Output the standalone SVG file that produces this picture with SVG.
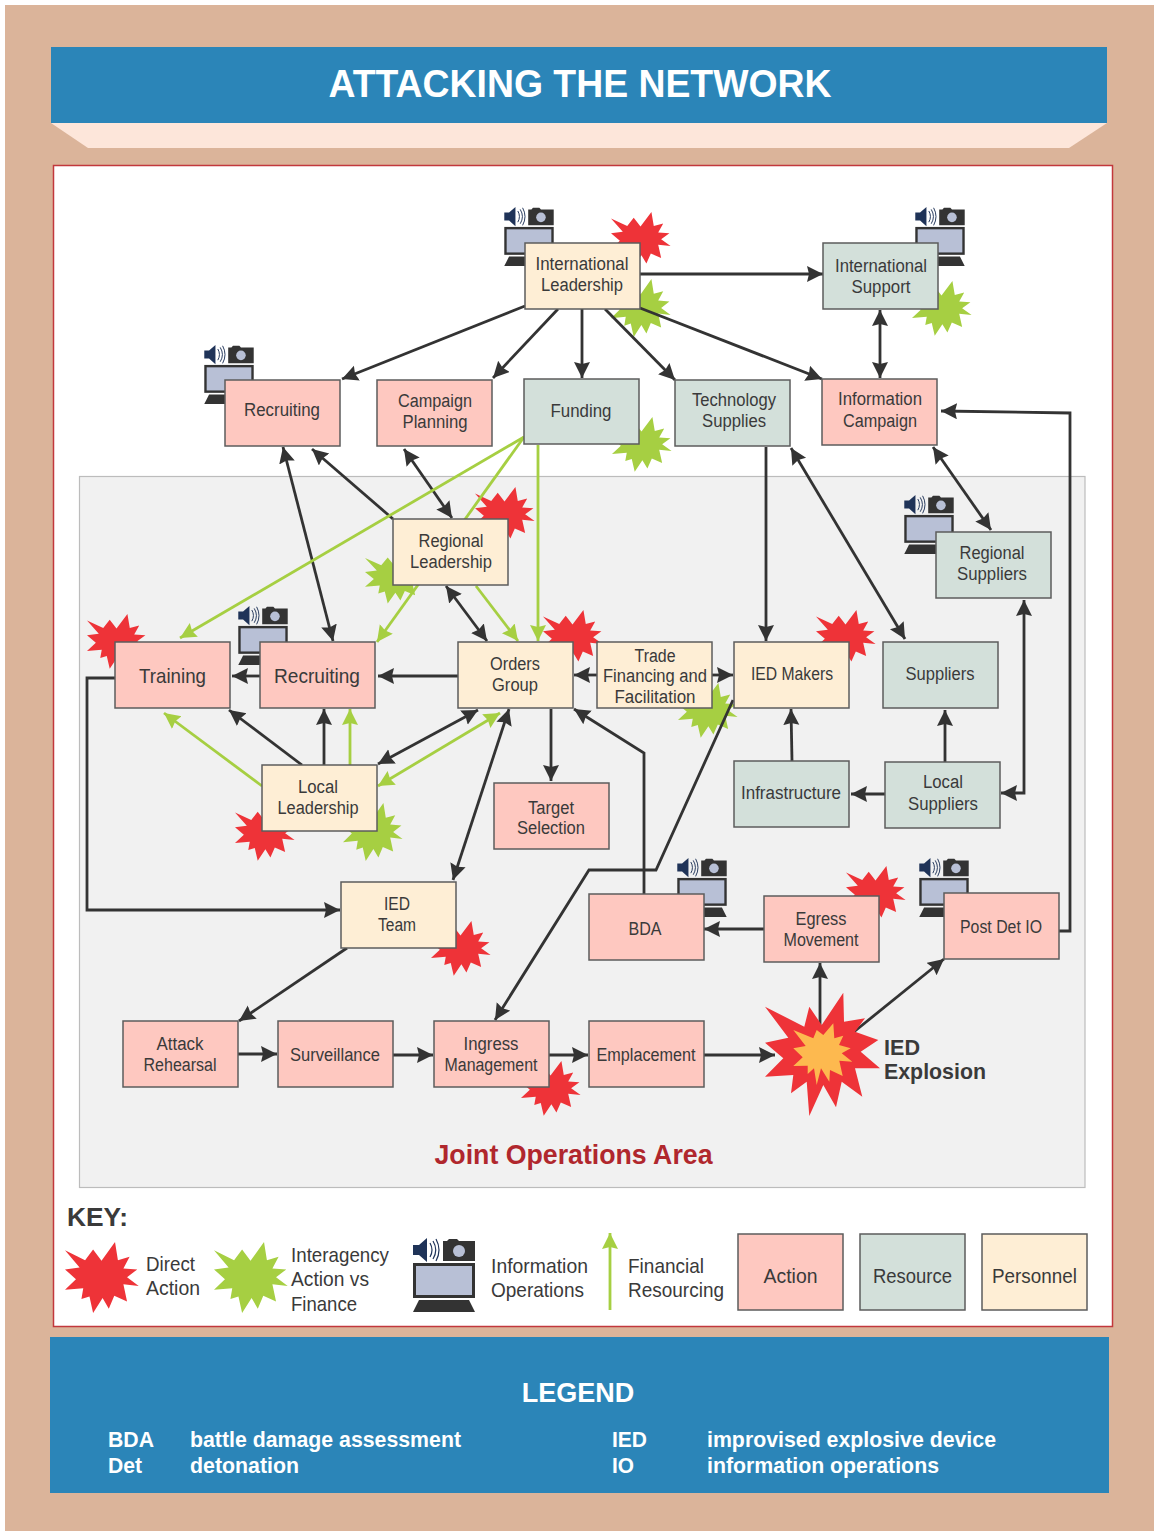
<svg xmlns="http://www.w3.org/2000/svg" xmlns:xlink="http://www.w3.org/1999/xlink" width="1154" height="1531" viewBox="0 0 1154 1531">
<style>
text{font-family:"Liberation Sans",Arial,sans-serif;fill:#3a3a3a;text-anchor:middle;font-size:18px}
.big{font-size:21px}
.lbl{font-size:21px;text-anchor:start}
.bold{font-weight:bold}
.wt{fill:#fff;font-weight:bold;font-size:22px;text-anchor:start}
.n{stroke:#5c5c5c;stroke-width:1.5}
.a{fill:#fec8c0}.r{fill:#d3e0da}.p{fill:#feeed5}
.k{fill:none;stroke:#333;stroke-width:2.800;marker-end:url(#ak)}
.kk{fill:none;stroke:#333;stroke-width:2.800;marker-end:url(#ak);marker-start:url(#ak)}
.g{fill:none;stroke:#a6cf42;stroke-width:2.800;marker-end:url(#ag)}
.gg{fill:none;stroke:#a6cf42;stroke-width:2.800;marker-end:url(#ag);marker-start:url(#ag)}
</style>
<defs>
<marker id="ak" markerUnits="userSpaceOnUse" markerWidth="18" markerHeight="18" refX="16" refY="8" orient="auto-start-reverse"><path d="M0,0L16,8L0,16L2,8Z" fill="#333"/></marker>
<marker id="ag" markerUnits="userSpaceOnUse" markerWidth="18" markerHeight="18" refX="16" refY="8" orient="auto-start-reverse"><path d="M0,0L16,8L0,16L2,8Z" fill="#a6cf42"/></marker>
<polygon id="star" points="137,0 145,55 177,45 160,80 198,83 170,107 202,133 160,128 170,180 135,163 120,202 103,170 77,215 67,165 45,173 50,140 0,145 30,113 0,83 40,77 0,25 55,55 77,23 100,57"/>
<symbol id="info" viewBox="0 0 62 74" overflow="visible">
<path d="M0,7H6L14,0V24L6,17H0Z" fill="#1f3358"/>
<path d="M17,5Q21,12 17,19M20,3Q25.500,12 20,21M23,1Q29,12 23,23" fill="none" stroke="#1f3358" stroke-width="1.200"/>
<path d="M30,3H34L36,1H44L46,3H62V23H30Z" fill="#333"/>
<circle cx="46" cy="13" r="6" fill="#b8c0d6"/>
<rect x="1.500" y="26.500" width="59" height="32" fill="#b8c0d6" stroke="#333" stroke-width="3"/>
<path d="M6,62H56L62,74H0Z" fill="#333"/>
</symbol>
</defs>
<rect x="5" y="5" width="1149" height="1526" fill="#dbb49a"/>
<rect x="51" y="47" width="1056" height="76" fill="#2b85b8"/>
<polygon points="51,123 1107,123 1069,148 88,148" fill="#fde6da"/>
<text x="580" y="97" textLength="503" lengthAdjust="spacingAndGlyphs" class="bold" style="fill:#fff;font-size:38px">ATTACKING THE NETWORK</text>
<rect x="53.500" y="165.500" width="1059" height="1161" fill="#fff" stroke="#c2383c" stroke-width="1.500"/>
<rect x="79.500" y="476.500" width="1005.500" height="711" fill="#f1f1f1" stroke="#bcbcbc" stroke-width="1.200"/>

<g id="decor">
<g fill="#ee3338">
<use href="#star" transform="translate(611,212) scale(.295,.255)"/>
<use href="#star" transform="translate(475,487) scale(.295,.255)"/>
<use href="#star" transform="translate(543,610) scale(.295,.255)"/>
<use href="#star" transform="translate(87,614) scale(.295,.255)"/>
<use href="#star" transform="translate(816,610) scale(.295,.255)"/>
<use href="#star" transform="translate(235,806) scale(.295,.255)"/>
<use href="#star" transform="translate(846,866) scale(.295,.255)"/>
<use href="#star" transform="translate(431,921) scale(.295,.255)"/>
<use href="#star" transform="translate(521,1061) scale(.295,.255)"/>
</g>
<g fill="#a6cf42">
<use href="#star" transform="translate(611,279) scale(.295,.27)"/>
<use href="#star" transform="translate(912,281) scale(.295,.255)"/>
<use href="#star" transform="translate(612,417) scale(.295,.255)"/>
<use href="#star" transform="translate(365,552) scale(.295,.24)"/>
<use href="#star" transform="translate(678,683) scale(.295,.255)"/>
<use href="#star" transform="translate(343,803) scale(.295,.27)"/>
</g>
<use href="#info" x="504" y="207" width="50" height="59"/>
<use href="#info" x="915" y="207" width="50" height="59"/>
<use href="#info" x="204" y="345" width="50" height="59"/>
<use href="#info" x="904" y="495" width="50" height="59"/>
<use href="#info" x="238" y="606" width="50" height="59"/>
<use href="#info" x="677" y="858" width="50" height="59"/>
<use href="#info" x="919" y="858" width="50" height="59"/>
</g>

<g id="connectors">
<path class="k" d="M640,274H823"/>
<path class="k" d="M525,306L342,379"/>
<path class="k" d="M558,309L493,378"/>
<path class="k" d="M582,309V378"/>
<path class="k" d="M605,309L675,380"/>
<path class="k" d="M640,308L822,379"/>
<path class="kk" d="M880,310V378"/>
<path class="k" d="M1059,931H1070V413L941,411"/>
<path class="kk" d="M283,447L333,641"/>
<path class="k" d="M393,519L312,449"/>
<path class="kk" d="M404,449L452,518"/>
<path class="g" d="M524,437L180,638"/>
<path class="g" d="M524,437L377,642"/>
<path class="g" d="M538,445V641"/>
<path class="g" d="M476,586L518,641"/>
<path class="kk" d="M446,586L487,641"/>
<path class="k" d="M766,447V641"/>
<path class="kk" d="M791,448L905,639"/>
<path class="kk" d="M933,447L991,530"/>
<path class="kk" d="M1024,600V793H1001"/>
<path class="k" d="M945,762V710"/>
<path class="k" d="M885,794H851"/>
<path class="k" d="M792,761L791,709"/>
<path class="k" d="M597,675H574"/>
<path class="k" d="M712,675H733"/>
<path class="k" d="M458,676H378"/>
<path class="k" d="M260,676H232"/>
<path class="k" d="M115,678H87V910H340"/>
<path class="k" d="M302,765L229,710"/>
<path class="k" d="M324,765V709"/>
<path class="g" d="M350,765V709"/>
<path class="g" d="M262,786L164,713"/>
<path class="kk" d="M378,764L478,710"/>
<path class="gg" d="M378,786L500,713"/>
<path class="kk" d="M509,709L453,880"/>
<path class="k" d="M551,709V781"/>
<path class="k" d="M644,894V753L574,709"/>
<path class="k" d="M733,700L656,870H589L495,1020"/>
<path class="k" d="M764,929H704"/>
<path class="k" d="M820,1035V963"/>
<path class="k" d="M850,1035L944,959"/>
<path class="k" d="M347,948L239,1021"/>
<path class="k" d="M238,1054H277"/>
<path class="k" d="M393,1055H433"/>
<path class="k" d="M549,1055H588"/>
<path class="k" d="M704,1055H775"/>
</g>

<g id="explosion">
<polygon fill="#ee3338" points="843.300,992.700 844,1021.700 865,1018.300 855,1031.700 878.300,1040 860.700,1051.700 880,1068.300 855,1068.300 862.300,1096.700 841.700,1081.700 836,1107.300 823.300,1085 809.300,1116 806.700,1081.700 791,1093.300 793.300,1075 765,1076.700 783.300,1058.300 765,1042.700 788.300,1037.700 765,1006.700 804.300,1026.700 809.300,1006.700 821.700,1025"/>
<polygon fill="#fdb94f" points="833.300,1023.300 834.300,1038.300 843.300,1035.700 839,1045 850.700,1048.300 841.700,1053.300 852.300,1061.700 839.300,1060.700 842.700,1076 830,1070 829.300,1081.700 821,1068.300 816.700,1085 814,1068.300 807.700,1074 807.700,1065.700 793.300,1066 802.700,1057.300 793.300,1048.300 805.700,1046 793.300,1030 813.300,1038.300 816.700,1030 823.300,1035"/>
<text x="884" y="1055" textLength="36" lengthAdjust="spacingAndGlyphs" class="big bold" style="text-anchor:start;font-size:22px">IED</text>
<text x="884" y="1079" textLength="102" lengthAdjust="spacingAndGlyphs" class="big bold" style="text-anchor:start;font-size:22px">Explosion</text>
</g>

<g id="n-intl-leadership"><rect class="n p" x="525" y="243" width="115" height="66"/><text x="582" y="270" textLength="93" lengthAdjust="spacingAndGlyphs">International</text><text x="582" y="291" textLength="82" lengthAdjust="spacingAndGlyphs">Leadership</text></g>
<g id="n-intl-support"><rect class="n r" x="823" y="243" width="115" height="66"/><text x="881" y="272" textLength="92" lengthAdjust="spacingAndGlyphs">International</text><text x="881" y="293" textLength="59" lengthAdjust="spacingAndGlyphs">Support</text></g>
<g id="n-recruiting-top"><rect class="n a" x="225" y="380" width="115" height="66"/><text x="282" y="416" textLength="76" lengthAdjust="spacingAndGlyphs">Recruiting</text></g>
<g id="n-campaign"><rect class="n a" x="377" y="380" width="115" height="66"/><text x="435" y="407" textLength="74" lengthAdjust="spacingAndGlyphs">Campaign</text><text x="435" y="428" textLength="65" lengthAdjust="spacingAndGlyphs">Planning</text></g>
<g id="n-funding"><rect class="n r" x="524" y="379" width="115" height="65"/><text x="581" y="417" textLength="61" lengthAdjust="spacingAndGlyphs">Funding</text></g>
<g id="n-technology"><rect class="n r" x="675" y="380" width="115" height="66"/><text x="734" y="406" textLength="84" lengthAdjust="spacingAndGlyphs">Technology</text><text x="734" y="427" textLength="64" lengthAdjust="spacingAndGlyphs">Supplies</text></g>
<g id="n-info-campaign"><rect class="n a" x="822" y="379" width="115" height="66"/><text x="880" y="405" textLength="84" lengthAdjust="spacingAndGlyphs">Information</text><text x="880" y="427" textLength="74" lengthAdjust="spacingAndGlyphs">Campaign</text></g>
<g id="n-regional-leadership"><rect class="n p" x="393" y="519" width="115" height="66"/><text x="451" y="547" textLength="65" lengthAdjust="spacingAndGlyphs">Regional</text><text x="451" y="568" textLength="82" lengthAdjust="spacingAndGlyphs">Leadership</text></g>
<g id="n-regional-suppliers"><rect class="n r" x="936" y="532" width="115" height="66"/><text x="992" y="559" textLength="65" lengthAdjust="spacingAndGlyphs">Regional</text><text x="992" y="580" textLength="70" lengthAdjust="spacingAndGlyphs">Suppliers</text></g>
<g id="n-training"><rect class="n a" x="115" y="642" width="115" height="66"/><text class="big" x="172.500" y="683" textLength="67" lengthAdjust="spacingAndGlyphs">Training</text></g>
<g id="n-recruiting"><rect class="n a" x="260" y="642" width="115" height="66"/><text class="big" x="317" y="683" textLength="86" lengthAdjust="spacingAndGlyphs">Recruiting</text></g>
<g id="n-orders"><rect class="n p" x="458" y="642" width="115" height="66"/><text x="515" y="670" textLength="50" lengthAdjust="spacingAndGlyphs">Orders</text><text x="515" y="691" textLength="46" lengthAdjust="spacingAndGlyphs">Group</text></g>
<g id="n-trade"><rect class="n p" x="597" y="642" width="115" height="66"/><text x="655" y="662" textLength="41" lengthAdjust="spacingAndGlyphs">Trade</text><text x="655" y="682" textLength="104" lengthAdjust="spacingAndGlyphs">Financing and</text><text x="655" y="703" textLength="81" lengthAdjust="spacingAndGlyphs">Facilitation</text></g>
<g id="n-ied-makers"><rect class="n p" x="734" y="642" width="115" height="66"/><text x="792" y="680" textLength="82" lengthAdjust="spacingAndGlyphs">IED Makers</text></g>
<g id="n-suppliers"><rect class="n r" x="883" y="642" width="115" height="66"/><text x="940" y="680" textLength="69" lengthAdjust="spacingAndGlyphs">Suppliers</text></g>
<g id="n-infrastructure"><rect class="n r" x="734" y="761" width="115" height="66"/><text x="791" y="799" textLength="100" lengthAdjust="spacingAndGlyphs">Infrastructure</text></g>
<g id="n-local-suppliers"><rect class="n r" x="885" y="762" width="115" height="66"/><text x="943" y="788" textLength="40" lengthAdjust="spacingAndGlyphs">Local</text><text x="943" y="810" textLength="70" lengthAdjust="spacingAndGlyphs">Suppliers</text></g>
<g id="n-local-leadership"><rect class="n p" x="262" y="765" width="115" height="66"/><text x="318" y="793" textLength="40" lengthAdjust="spacingAndGlyphs">Local</text><text x="318" y="814" textLength="81" lengthAdjust="spacingAndGlyphs">Leadership</text></g>
<g id="n-target"><rect class="n a" x="494" y="783" width="115" height="66"/><text x="551" y="814" textLength="46" lengthAdjust="spacingAndGlyphs">Target</text><text x="551" y="834" textLength="68" lengthAdjust="spacingAndGlyphs">Selection</text></g>
<g id="n-ied-team"><rect class="n p" x="341" y="882" width="115" height="66"/><text x="397" y="910" textLength="26" lengthAdjust="spacingAndGlyphs">IED</text><text x="397" y="931" textLength="38" lengthAdjust="spacingAndGlyphs">Team</text></g>
<g id="n-bda"><rect class="n a" x="589" y="894" width="115" height="66"/><text x="645" y="935" textLength="33" lengthAdjust="spacingAndGlyphs">BDA</text></g>
<g id="n-egress"><rect class="n a" x="764" y="896" width="115" height="66"/><text x="821" y="925" textLength="51" lengthAdjust="spacingAndGlyphs">Egress</text><text x="821" y="946" textLength="75" lengthAdjust="spacingAndGlyphs">Movement</text></g>
<g id="n-post-det"><rect class="n a" x="944" y="893" width="115" height="66"/><text x="1001" y="933" textLength="82" lengthAdjust="spacingAndGlyphs">Post Det IO</text></g>
<g id="n-attack"><rect class="n a" x="123" y="1021" width="115" height="66"/><text x="180" y="1050" textLength="47" lengthAdjust="spacingAndGlyphs">Attack</text><text x="180" y="1071" textLength="73" lengthAdjust="spacingAndGlyphs">Rehearsal</text></g>
<g id="n-surveillance"><rect class="n a" x="278" y="1021" width="115" height="66"/><text x="335" y="1061" textLength="90" lengthAdjust="spacingAndGlyphs">Surveillance</text></g>
<g id="n-ingress"><rect class="n a" x="434" y="1021" width="115" height="66"/><text x="491" y="1050" textLength="55" lengthAdjust="spacingAndGlyphs">Ingress</text><text x="491" y="1071" textLength="93" lengthAdjust="spacingAndGlyphs">Management</text></g>
<g id="n-emplacement"><rect class="n a" x="589" y="1021" width="115" height="66"/><text x="646" y="1061" textLength="99" lengthAdjust="spacingAndGlyphs">Emplacement</text></g>

<text x="573.500" y="1164" class="bold" textLength="278" lengthAdjust="spacingAndGlyphs" style="fill:#b0272d;font-size:27px">Joint Operations Area</text>

<g id="key">
<text x="67" y="1226" class="bold" textLength="61" lengthAdjust="spacingAndGlyphs" style="text-anchor:start;font-size:26px">KEY:</text>
<use href="#star" fill="#ee3338" transform="translate(65,1242) scale(.365,.33)"/>
<use href="#star" fill="#a6cf42" transform="translate(214,1242) scale(.365,.33)"/>
<text class="lbl" x="146" y="1271" textLength="49" lengthAdjust="spacingAndGlyphs">Direct</text>
<text class="lbl" x="146" y="1295" textLength="54" lengthAdjust="spacingAndGlyphs">Action</text>
<text class="lbl" x="291" y="1262" textLength="98" lengthAdjust="spacingAndGlyphs">Interagency</text>
<text class="lbl" x="291" y="1286" textLength="78" lengthAdjust="spacingAndGlyphs">Action vs</text>
<text class="lbl" x="291" y="1311" textLength="66" lengthAdjust="spacingAndGlyphs">Finance</text>
<use href="#info" x="413" y="1238" width="62" height="74"/>
<text class="lbl" x="491" y="1273" textLength="97" lengthAdjust="spacingAndGlyphs">Information</text>
<text class="lbl" x="491" y="1297" textLength="93" lengthAdjust="spacingAndGlyphs">Operations</text>
<path class="g" d="M610,1310V1233"/>
<text class="lbl" x="628" y="1273" textLength="76" lengthAdjust="spacingAndGlyphs">Financial</text>
<text class="lbl" x="628" y="1297" textLength="96" lengthAdjust="spacingAndGlyphs">Resourcing</text>
<rect class="n a" x="738" y="1234" width="105" height="76"/><text class="big" x="790.500" y="1283" textLength="54" lengthAdjust="spacingAndGlyphs">Action</text>
<rect class="n r" x="860" y="1234" width="105" height="76"/><text class="big" x="912.500" y="1283" textLength="79" lengthAdjust="spacingAndGlyphs">Resource</text>
<rect class="n p" x="982" y="1234" width="105" height="76"/><text class="big" x="1034.500" y="1283" textLength="85" lengthAdjust="spacingAndGlyphs">Personnel</text>
</g>

<g id="legend">
<rect x="50" y="1337" width="1059" height="156" fill="#2b85b8"/>
<text x="578" y="1402" class="bold" style="fill:#fff;font-size:27px">LEGEND</text>
<text class="wt" x="108" y="1447" textLength="46" lengthAdjust="spacingAndGlyphs">BDA</text>
<text class="wt" x="108" y="1473" textLength="34" lengthAdjust="spacingAndGlyphs">Det</text>
<text class="wt" x="190" y="1447" textLength="271" lengthAdjust="spacingAndGlyphs">battle damage assessment</text>
<text class="wt" x="190" y="1473" textLength="109" lengthAdjust="spacingAndGlyphs">detonation</text>
<text class="wt" x="612" y="1447" textLength="35" lengthAdjust="spacingAndGlyphs">IED</text>
<text class="wt" x="612" y="1473" textLength="22" lengthAdjust="spacingAndGlyphs">IO</text>
<text class="wt" x="707" y="1447" textLength="289" lengthAdjust="spacingAndGlyphs">improvised explosive device</text>
<text class="wt" x="707" y="1473" textLength="232" lengthAdjust="spacingAndGlyphs">information operations</text>
</g>
</svg>
